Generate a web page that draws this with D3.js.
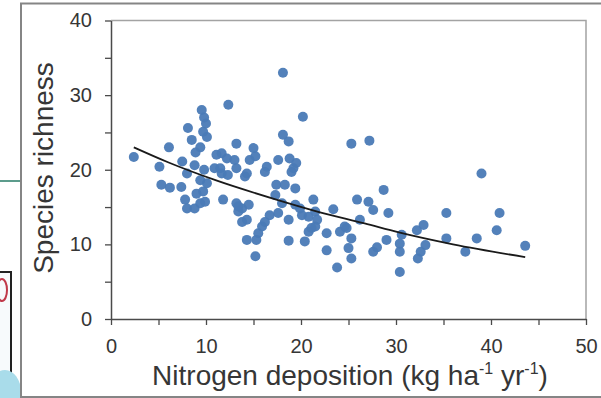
<!DOCTYPE html>
<html>
<head>
<meta charset="utf-8">
<script src="https://cdn.jsdelivr.net/npm/d3@7"></script>
<style>
  html, body { margin: 0; padding: 0; background: #fff; }
  #chart svg { display: block; }
</style>
</head>
<body>
<div id="chart"></div>
<script>

// nitrogen deposition (kg/ha/yr) and species richness
const nitrogen = [
  2.4, 5.1, 6.1, 5.3, 6.2, 7.4, 7.5, 7.8, 8.0, 8.8, 9.4, 9.9, 9.0, 9.7, 8.0, 9.4,
  10.1, 8.8, 8.1, 8.5, 9.4, 9.55, 9.7, 10.0, 10.1, 9.8, 8.9, 9.8,
  11.1, 10.9, 11.65, 12.2, 13.0, 12.35, 13.2, 15.0, 14.6, 15.2, 17.6, 18.8, 19.5, 19.2,
  16.4, 13.2, 11.5, 14.3, 18.1, 20.2, 18.1, 18.7, 11.65, 12.3, 14.1, 16.2, 19.0, 17.4,
  18.3, 19.4, 17.3, 18.0, 19.4, 21.3, 11.8, 13.2, 13.8, 14.5, 13.4, 14.3, 16.7, 17.6,
  16.2, 15.9, 15.5, 14.3, 15.3, 15.2, 18.7, 18.7, 20.1, 20.8, 21.5, 20.8, 20.4,
  21.5, 23.4, 22.7, 24.1, 24.6, 22.7, 23.8, 25.3, 27.2, 25.9, 27.1, 27.6, 28.7, 29.2,
  26.2, 25.3, 25.0, 25.3, 28.0, 27.6, 29.0, 21.7, 19.9, 13.8, 21.1, 13.4, 24.8,
  30.6, 30.4, 30.4, 30.4, 32.9, 32.2, 33.1, 32.6, 32.3, 35.3, 35.3, 37.3, 38.5,
  39.0, 40.9, 40.6, 43.6
];
const richness = [
  21.7, 20.4, 23.0, 18.0, 17.6, 17.7, 21.1, 16.0, 14.8, 14.8, 15.5, 15.7, 16.8, 17.1, 19.5, 18.6,
  18.2, 20.6, 25.6, 24.0, 23.0, 28.0, 25.1, 26.2, 24.4, 27.0, 22.3, 20.0,
  22.0, 20.2, 22.2, 21.5, 21.3, 28.7, 23.5, 22.9, 21.3, 21.8, 21.3, 21.5, 20.9, 20.2,
  20.4, 20.2, 20.2, 19.5, 33.0, 27.1, 24.7, 23.8, 19.5, 19.3, 19.1, 19.7, 19.7, 18.0,
  18.0, 17.5, 16.6, 15.5, 15.3, 16.0, 16.0, 15.5, 14.8, 15.3, 14.4, 13.3, 13.9, 14.2,
  13.0, 12.4, 11.5, 10.6, 10.6, 8.4, 13.3, 10.5, 13.9, 13.7, 12.4, 11.7, 10.4,
  14.4, 14.7, 11.5, 11.7, 12.4, 9.2, 6.9, 23.5, 23.9, 16.0, 15.7, 14.6, 17.3, 14.2,
  13.3, 10.8, 9.5, 8.1, 9.6, 9.0, 10.6, 13.3, 14.8, 13.0, 12.2, 15.1, 12.2,
  11.3, 10.1, 9.0, 6.3, 12.6, 11.9, 9.9, 9.0, 8.1, 14.2, 10.8, 9.0, 10.8,
  19.5, 14.2, 11.9, 9.8
];

// fitted trend line
const trendX = [2.4, 6, 11, 17.4, 22, 26.7, 30.3, 36, 43.6];
const trendY = [23.0, 21.0, 18.6, 16.0, 14.3, 12.8, 11.6, 10.0, 8.3];

const xTicks = [0, 5, 10, 15, 20, 25, 30, 35, 40, 45, 50];
const yTicks = [0, 5, 10, 15, 20, 25, 30, 35, 40];

const width = 601, height = 398;
const font = '"Liberation Sans", Arial, sans-serif';

var svg = d3.select('#chart')
    .append('svg')
    .attr('width', width)
    .attr('height', height);

// bits of the surrounding slide
svg.append('line')
    .attr('x1', 0).attr('x2', 21)
    .attr('y1', 181).attr('y2', 181)
    .attr('stroke', '#5c9c8c')
    .attr('stroke-width', 2);

svg.append('rect')
    .attr('x', -3).attr('y', 272)
    .attr('width', 14).attr('height', 130)
    .attr('fill', '#f7fafc')
    .attr('stroke', '#222')
    .attr('stroke-width', 2);
svg.append('ellipse')
    .attr('cx', 2).attr('cy', 290).attr('rx', 5).attr('ry', 11)
    .attr('fill', 'none').attr('stroke', '#c0394a').attr('stroke-width', 2);
svg.append('ellipse')
    .attr('cx', 5).attr('cy', 392).attr('rx', 16).attr('ry', 22)
    .attr('fill', '#a9dcea');

// outer frame of the pasted picture
svg.append('rect')
    .attr('x', 21).attr('y', 3.5)
    .attr('width', 600).attr('height', 393.5)
    .attr('fill', '#fff')
    .attr('stroke', '#858585')
    .attr('stroke-width', 2);

var x = d3.scaleLinear().domain([0, 50]).range([111, 586]);
var y = d3.scaleLinear().domain([0, 40]).range([319, 20.5]);

// top and right border of the plot box
svg.append('path')
    .attr('d', 'M' + x(0) + ',' + y(40) + 'H' + x(50) + 'V' + y(0))
    .attr('fill', 'none')
    .attr('stroke', '#a3a3a3')
    .attr('stroke-width', 1.5);

var xAxis = svg.append('g')
    .attr('transform', 'translate(0,' + y(0) + ')')
    .call(d3.axisBottom(x)
      .tickValues(xTicks)
      .tickSize(6)
      .tickSizeOuter(0)
      .tickPadding(14)
      .tickFormat(d => d % 10 === 0 ? d : ''));

var yAxis = svg.append('g')
    .attr('transform', 'translate(' + x(0) + ',0)')
    .call(d3.axisLeft(y)
      .tickValues(yTicks)
      .tickSize(6)
      .tickSizeOuter(0)
      .tickPadding(13)
      .tickFormat(d => d % 10 === 0 ? d : ''));

[xAxis, yAxis].forEach(g => {
  g.select('.domain').attr('stroke', '#4a4a4a').attr('stroke-width', 1.5);
  g.selectAll('.tick line').attr('stroke', '#4a4a4a').attr('stroke-width', 1.3);
  g.selectAll('.tick text')
    .attr('fill', '#363636')
    .style('font-family', font)
    .style('font-size', '20px');
});

// scatter
var points = d3.range(nitrogen.length).map(i => ({ n: nitrogen[i], s: richness[i] }));

svg.append('g')
  .selectAll('circle')
  .data(points)
  .enter()
  .append('circle')
    .attr('cx', d => x(d.n))
    .attr('cy', d => y(d.s))
    .attr('r', 5)
    .attr('fill', '#4a7ab6')
    .attr('fill-opacity', 0.95);

// trend curve
var trend = trendX.map((v, i) => [v, trendY[i]]);
svg.append('path')
    .datum(trend)
    .attr('fill', 'none')
    .attr('stroke', '#1a1a1a')
    .attr('stroke-width', 1.8)
    .attr('d', d3.line()
      .x(d => x(d[0]))
      .y(d => y(d[1]))
      .curve(d3.curveMonotoneX));

// axis titles
svg.append('text')
    .attr('transform', 'translate(53,168) rotate(-90)')
    .attr('text-anchor', 'middle')
    .attr('fill', '#363636')
    .style('font-family', font)
    .style('font-size', '28px')
    .text('Species richness');

var xt = svg.append('text')
    .attr('x', 350)
    .attr('y', 385)
    .attr('text-anchor', 'middle')
    .attr('fill', '#363636')
    .style('font-family', font)
    .style('font-size', '28px');
xt.append('tspan').text('Nitrogen deposition (kg ha');
xt.append('tspan').attr('dy', -11).style('font-size', '16px').text('-1');
xt.append('tspan').attr('dy', 11).text(' yr');
xt.append('tspan').attr('dy', -11).style('font-size', '16px').text('-1');
xt.append('tspan').attr('dy', 11).text(')');

</script>
</body>
</html>
